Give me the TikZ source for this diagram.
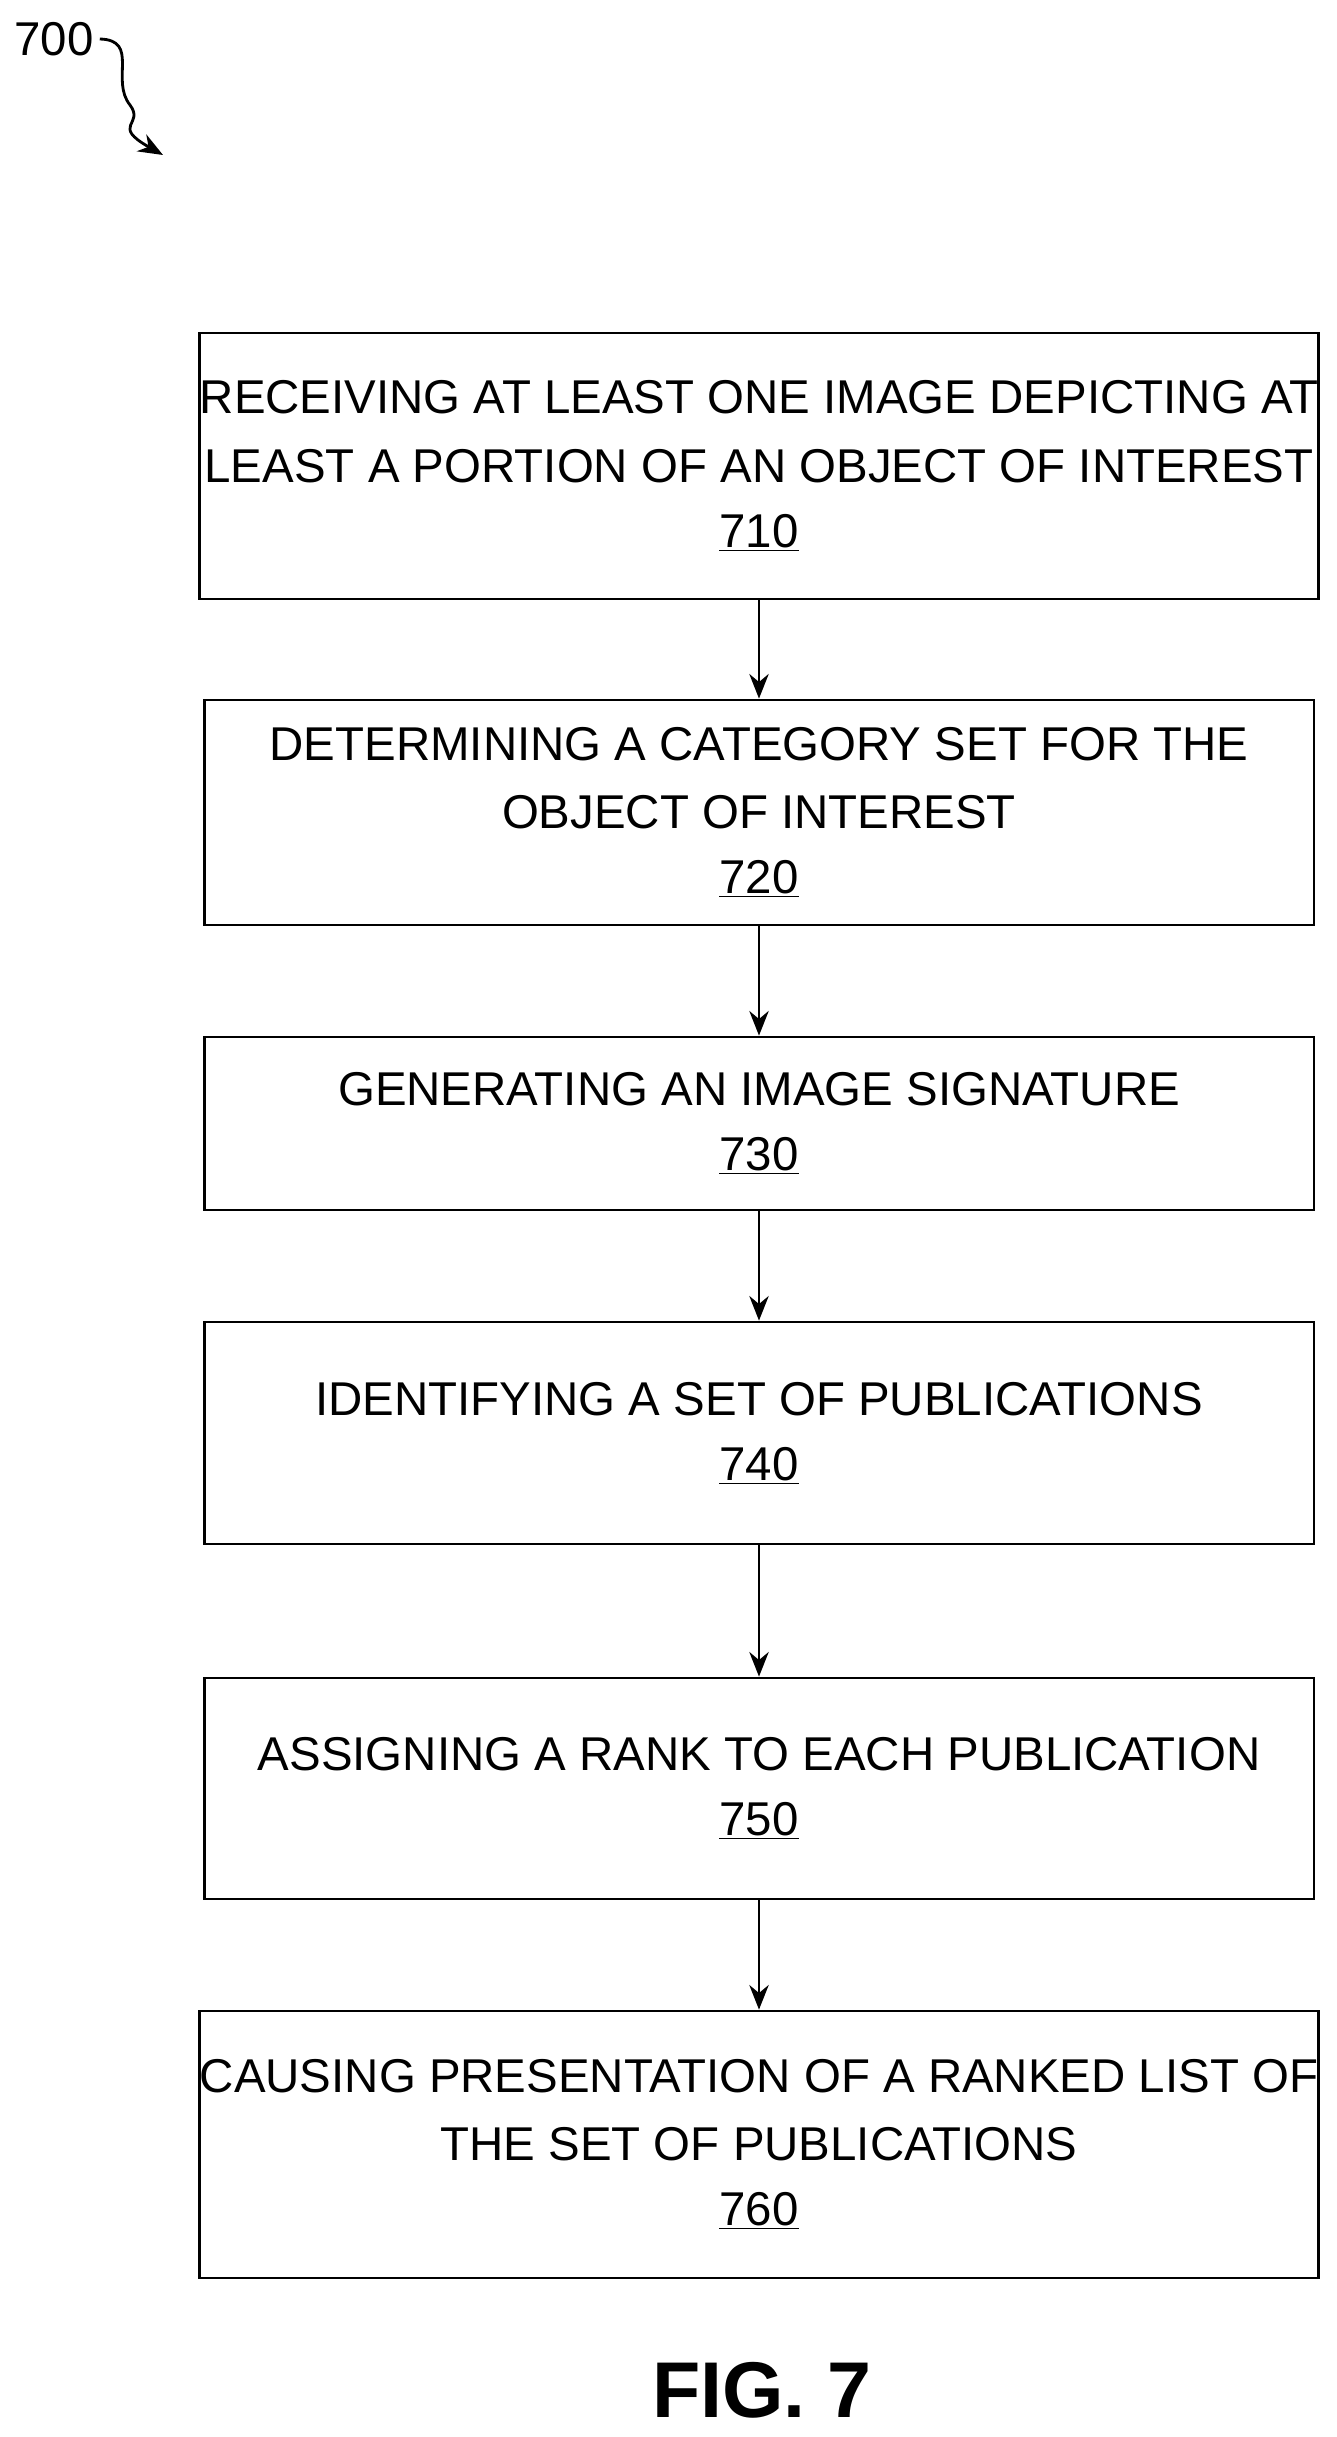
\documentclass[tikz,border=0pt]{standalone}
\usepackage{fontspec}
\setmainfont{Liberation Sans}
\usetikzlibrary{arrows.meta}
\tikzstyle{stage} = [draw=black, line width=1.6pt, minimum width=22.2cm, align=center, font=\fontsize{27}{39}\selectfont, inner sep=0pt]
\tikzstyle{flow} = [draw=black, line width=1.6pt, -{Stealth[length=14pt,width=11pt]}]
\newcommand{\stepno}[1]{\\[-2pt]\underline{#1}}
\begin{document}
\begin{tikzpicture}[x=0.02cm,y=-0.02cm]%
	\useasboundingbox (0,0) rectangle (1337,2437);%
	\node (s710) at (759,466) [stage, minimum height=5.32cm] {RECEIVING AT LEAST ONE IMAGE DEPICTING AT\\LEAST A PORTION OF AN OBJECT OF INTEREST\stepno{710}};%
	\node (s720) at (759,812.5) [stage, minimum height=4.5cm] {DETERMINING A CATEGORY SET FOR THE\\OBJECT OF INTEREST\stepno{720}};%
	\node (s730) at (759,1123.5) [stage, minimum height=3.46cm] {GENERATING AN IMAGE SIGNATURE\stepno{730}};%
	\node (s740) at (759,1433) [stage, minimum height=4.44cm] {IDENTIFYING A SET OF PUBLICATIONS\stepno{740}};%
	\node (s750) at (759,1788.5) [stage, minimum height=4.42cm] {ASSIGNING A RANK TO EACH PUBLICATION\stepno{750}};%
	\node (s760) at (759,2144.5) [stage, minimum height=5.34cm] {CAUSING PRESENTATION OF A RANKED LIST OF\\THE SET OF PUBLICATIONS\stepno{760}};%
	\foreach \a/\b in {s710/s720, s720/s730, s730/s740, s740/s750, s750/s760}%
		\draw [flow] (\a) -- (\b);%
	\node (lbl) at (54,39) [font=\fontsize{27}{32}\selectfont] {700};%
	\coordinate (tip) at (163,155);%
	\draw [flow] (lbl.east) .. controls (140,40) and (110,80) .. (130,105) .. controls (145,125) and (110,125) .. (tip);%
	\node (fig) at (762,2390) [font=\fontsize{45}{50}\selectfont\bfseries] {FIG. 7};%
\end{tikzpicture}
\end{document}
